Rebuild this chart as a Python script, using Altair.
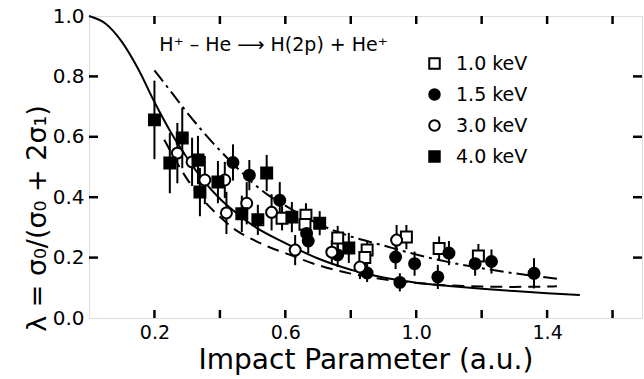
import altair as alt
import pandas as pd

# ---------------- data ----------------
# theory curves
solid_x = [0.0, 0.05, 0.1, 0.15, 0.2, 0.25, 0.3, 0.35, 0.4, 0.45, 0.5, 0.6, 0.7, 0.8, 0.9, 1.0, 1.1, 1.2, 1.3, 1.4, 1.5]
solid_y = [1.0, 0.975, 0.915, 0.825, 0.715, 0.615, 0.53, 0.455, 0.395, 0.348, 0.307, 0.248, 0.197, 0.16, 0.134, 0.117, 0.106, 0.097, 0.089, 0.082, 0.076]
dashdot_x = [0.2, 0.25, 0.3, 0.35, 0.4, 0.45, 0.5, 0.55, 0.6, 0.7, 0.8, 0.9, 1.0, 1.1, 1.2, 1.3, 1.43]
dashdot_y = [0.82, 0.75, 0.68, 0.615, 0.555, 0.5, 0.448, 0.405, 0.372, 0.312, 0.27, 0.24, 0.21, 0.185, 0.165, 0.148, 0.13]
dashed_x = [0.23, 0.3, 0.35, 0.4, 0.45, 0.5, 0.55, 0.6, 0.7, 0.8, 0.9, 1.0, 1.1, 1.2, 1.3, 1.43]
dashed_y = [0.59, 0.46, 0.39, 0.335, 0.29, 0.26, 0.235, 0.215, 0.175, 0.147, 0.128, 0.116, 0.108, 0.104, 0.103, 0.105]

# measurements
e10_x = [0.59, 0.663, 0.66, 0.76, 0.85, 0.843, 0.97, 1.07, 1.19]
e10_y = [0.33, 0.34, 0.31, 0.265, 0.225, 0.20, 0.268, 0.23, 0.205]
e10_err = [0.04, 0.04, 0.03, 0.04, 0.03, 0.03, 0.04, 0.04, 0.04]

e15_x = [0.44, 0.49, 0.583, 0.665, 0.67, 0.76, 0.85, 0.937, 0.95, 0.995, 1.066, 1.1, 1.18, 1.23, 1.36]
e15_y = [0.515, 0.473, 0.39, 0.28, 0.255, 0.209, 0.149, 0.202, 0.118, 0.18, 0.136, 0.215, 0.18, 0.187, 0.148]
e15_err = [0.06, 0.05, 0.06, 0.04, 0.04, 0.04, 0.03, 0.04, 0.03, 0.04, 0.04, 0.04, 0.04, 0.04, 0.05]

e30_x = [0.27, 0.315, 0.354, 0.415, 0.482, 0.42, 0.558, 0.63, 0.742, 0.828, 0.94]
e30_y = [0.546, 0.517, 0.457, 0.457, 0.38, 0.348, 0.35, 0.225, 0.218, 0.169, 0.258]
e30_err = [0.1, 0.08, 0.08, 0.06, 0.07, 0.07, 0.06, 0.05, 0.04, 0.04, 0.05]

e40_x = [0.2, 0.247, 0.285, 0.333, 0.339, 0.394, 0.467, 0.516, 0.543, 0.62, 0.705, 0.794]
e40_y = [0.656, 0.513, 0.596, 0.523, 0.417, 0.45, 0.345, 0.325, 0.48, 0.334, 0.314, 0.232]
e40_err = [0.13, 0.1, 0.1, 0.08, 0.08, 0.07, 0.06, 0.05, 0.06, 0.05, 0.04, 0.05]

energies = ["1.0 keV", "1.5 keV", "3.0 keV", "4.0 keV"]
shapes = ["square", "circle", "circle", "square"]
fills = ["white", "black", "white", "black"]
strokes = ["black", "black", "black", "black"]

x_ticks = [0.2, 0.4, 0.6, 0.8, 1.0, 1.2, 1.4, 1.6]
x_labels = [0.2, 0.6, 1.0, 1.4]
y_ticks = [0.2, 0.4, 0.6, 0.8]
y_labels = [0.0, 0.2, 0.4, 0.6, 0.8, 1.0]

reaction = "H\u207a \u2013 He \u27f6 H(2p) + He\u207a"
reaction_x = [0.215]
reaction_y = [0.905]

# ---------------- tables ----------------
curves = pd.concat([
    pd.DataFrame({"b": solid_x, "lam": solid_y, "curve": "solid"}),
    pd.DataFrame({"b": dashdot_x, "lam": dashdot_y, "curve": "dashdot"}),
    pd.DataFrame({"b": dashed_x, "lam": dashed_y, "curve": "dashed"}),
])

pts = pd.concat([
    pd.DataFrame({"b": e10_x, "lam": e10_y, "err": e10_err, "E": energies[0]}),
    pd.DataFrame({"b": e15_x, "lam": e15_y, "err": e15_err, "E": energies[1]}),
    pd.DataFrame({"b": e30_x, "lam": e30_y, "err": e30_err, "E": energies[2]}),
    pd.DataFrame({"b": e40_x, "lam": e40_y, "err": e40_err, "E": energies[3]}),
])
pts["lo"] = pts["lam"] - pts["err"]
pts["hi"] = pts["lam"] + pts["err"]

W, H = 553, 302
FONT = "DejaVu Sans"
xs = alt.Scale(domain=[0, 1.69], nice=False, zero=False)
ys = alt.Scale(domain=[0, 1], nice=False)

X = alt.X("b:Q", scale=xs, axis=alt.Axis(
    values=x_labels, format=".1f", ticks=False, domain=False, grid=False,
    labelFont=FONT, labelFontSize=19, labelColor="black", labelPadding=5,
    title="Impact Parameter (a.u.)", titleFont=FONT, titleFontSize=28,
    titleFontWeight="normal", titleColor="black", titlePadding=4))
Y = alt.Y("lam:Q", scale=ys, axis=alt.Axis(
    values=y_labels, format=".1f", ticks=False, domain=False, grid=False,
    labelFont=FONT, labelFontSize=20, labelColor="black", labelPadding=5,
    title="\u03bb = \u03c3\u2080/(\u03c3\u2080 + 2\u03c3\u2081)", titleFont=FONT,
    titleFontSize=27, titleFontWeight="normal", titleColor="black",
    titleX=-52, titleY=202, titleAlign="center", titleBaseline="middle"))

base_c = alt.Chart(curves)
solid = base_c.transform_filter("datum.curve == 'solid'").mark_line(
    color="black", strokeWidth=2, interpolate="monotone").encode(x=X, y=Y, order="b:Q")
dashdot = base_c.transform_filter("datum.curve == 'dashdot'").mark_line(
    color="black", strokeWidth=2, strokeDash=[14, 5, 3, 5], interpolate="monotone").encode(
    x=alt.X("b:Q", scale=xs), y=alt.Y("lam:Q", scale=ys), order="b:Q")
dashed = base_c.transform_filter("datum.curve == 'dashed'").mark_line(
    color="black", strokeWidth=2, strokeDash=[12, 7], interpolate="monotone").encode(
    x=alt.X("b:Q", scale=xs), y=alt.Y("lam:Q", scale=ys), order="b:Q")

bars = alt.Chart(pts).mark_rule(color="black", strokeWidth=2).encode(
    x=alt.X("b:Q", scale=xs), y=alt.Y("lo:Q", scale=ys), y2="hi:Q")

leg = alt.Legend(title=None, orient="none", legendX=336, legendY=38,
                 labelFont=FONT, labelFontSize=19, labelColor="black",
                 symbolSize=110, symbolStrokeWidth=2, symbolStrokeColor="black",
                 rowPadding=11, labelOffset=12)
points = alt.Chart(pts).mark_point(filled=True, opacity=1, strokeWidth=2, size=120).encode(
    x=alt.X("b:Q", scale=xs), y=alt.Y("lam:Q", scale=ys),
    shape=alt.Shape("E:N", scale=alt.Scale(domain=energies, range=shapes), legend=leg),
    fill=alt.Fill("E:N", scale=alt.Scale(domain=energies, range=fills), legend=leg),
    stroke=alt.Stroke("E:N", scale=alt.Scale(domain=energies, range=strokes), legend=leg),
)

text = alt.Chart(pd.DataFrame({"b": reaction_x, "lam": reaction_y, "t": [reaction]})).mark_text(
    align="left", baseline="middle", font=FONT, fontSize=19, color="black").encode(
    x=alt.X("b:Q", scale=xs), y=alt.Y("lam:Q", scale=ys), text="t:N")

xt = pd.DataFrame({"b": x_ticks})
yt = pd.DataFrame({"lam": y_ticks})
tb = alt.Chart(xt).mark_rule(color="black", strokeWidth=2.5).encode(
    x=alt.X("b:Q", scale=xs), y=alt.value(H), y2=alt.value(H - 8))
tt = alt.Chart(xt).mark_rule(color="black", strokeWidth=2.5).encode(
    x=alt.X("b:Q", scale=xs), y=alt.value(0), y2=alt.value(8))
tl = alt.Chart(yt).mark_rule(color="black", strokeWidth=2.5).encode(
    y=alt.Y("lam:Q", scale=ys), x=alt.value(0), x2=alt.value(9))
tr = alt.Chart(yt).mark_rule(color="black", strokeWidth=2.5).encode(
    y=alt.Y("lam:Q", scale=ys), x=alt.value(W), x2=alt.value(W - 9))

chart = alt.layer(solid, dashdot, dashed, bars, points, text, tb, tt, tl, tr).properties(
    width=W, height=H,
    autosize=alt.AutoSizeParams(type="none"),
    padding={"left": 89, "top": 16, "right": 2, "bottom": 61},
).configure_view(stroke="black", strokeWidth=2.5).configure(background="white")

chart.save("out.html", embed_options={"renderer": "svg", "actions": False})
